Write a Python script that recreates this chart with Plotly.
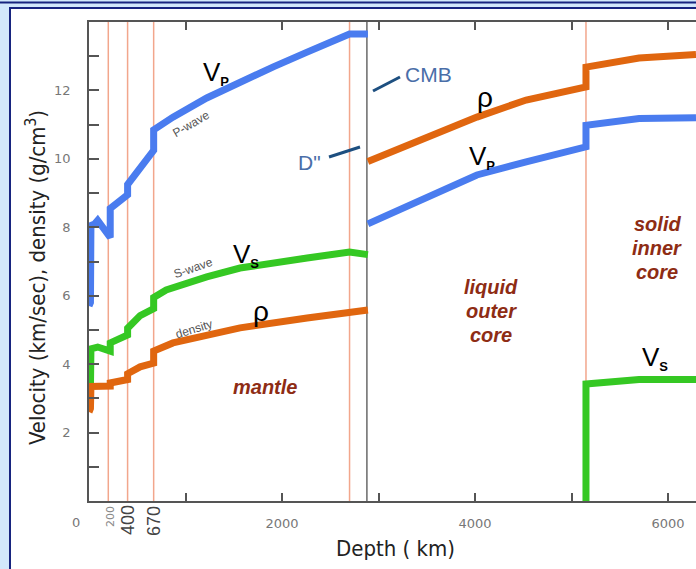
import plotly.graph_objects as go

# ---------------- data (depth in km, values in km/s or g/cm3) ----------------
mantle_depth_vp = [0, 15, 20, 60, 90, 220, 220, 400, 400, 670, 670, 750, 870, 1220, 1565, 1910, 2260, 2700, 2890]
mantle_vp = [5.7, 5.8, 8.05, 8.1, 8.2, 7.7, 8.55, 8.95, 9.25, 10.25, 10.85, 11.0, 11.22, 11.78, 12.25, 12.69, 13.12, 13.65, 13.65]

mantle_depth_vs = [0, 15, 20, 60, 90, 220, 220, 400, 400, 530, 670, 670, 800, 1220, 1565, 2260, 2700, 2890]
mantle_vs = [3.2, 3.3, 4.45, 4.45, 4.5, 4.38, 4.62, 4.85, 5.05, 5.42, 5.62, 5.95, 6.17, 6.55, 6.81, 7.1, 7.28, 7.2]

mantle_depth_rho = [0, 15, 20, 220, 220, 400, 400, 530, 670, 670, 870, 1565, 2260, 2700, 2890]
mantle_rho = [2.6, 2.7, 3.35, 3.36, 3.45, 3.55, 3.72, 3.92, 4.03, 4.38, 4.62, 5.06, 5.35, 5.52, 5.58]

core_depth = [2890, 3500, 4020, 4530, 5150, 5150, 5700, 6290]
core_vp = [8.1, 8.89, 9.53, 9.91, 10.35, 10.98, 11.18, 11.2]
core_rho = [9.92, 10.64, 11.22, 11.72, 12.1, 12.68, 12.95, 13.05]

inner_depth_vs = [5150, 5150, 5700, 6290]
inner_vs = [0, 3.42, 3.55, 3.55]

boundary_depths = [200, 400, 670, 2700, 5150]
cmb_depth = 2880

x_tickvals = [1000, 2000, 3000, 4000, 5000, 6000]
x_ticktext = ["", "2000", "", "4000", "", "6000"]
y_tickvals = list(range(1, 14))
y_ticktext = [str(v) if v % 2 == 0 else "" for v in y_tickvals]

# ---------------- geometry helpers ----------------
W, H = 696, 569
L, T, R, B = 89, 22, 696, 501


def px(x):
    return (x - L) / (R - L)


def py(y):
    return (B - y) / (B - T)


BLUE = "#4a7cef"
GREEN = "#35c823"
ORANGE = "#e0660f"
SALMON = "#f2a68c"
BROWN = "#8e2c14"
NAVY = "#17247f"
LABEL = "Liberation Sans, Arial, sans-serif"
NARROW = "Liberation Sans Narrow, DejaVu Sans Condensed, sans-serif"
TICKF = "DejaVu Sans, sans-serif"

fig = go.Figure()


def add_line(xs, ys, color):
    fig.add_trace(go.Scatter(x=xs, y=ys, mode="lines", line=dict(color=color, width=7),
                             showlegend=False, hoverinfo="skip"))


add_line(mantle_depth_vp, mantle_vp, BLUE)
add_line(mantle_depth_vs, mantle_vs, GREEN)
add_line(mantle_depth_rho, mantle_rho, ORANGE)
add_line(core_depth, core_vp, BLUE)
add_line(core_depth, core_rho, ORANGE)
add_line(inner_depth_vs, inner_vs, GREEN)

shapes = []
# frame
shapes.append(dict(type="rect", xref="paper", yref="paper", x0=px(10), x1=px(720), y0=py(8), y1=py(620),
                   fillcolor="white", line=dict(color=NAVY, width=2), layer="below"))
shapes.append(dict(type="line", xref="paper", yref="paper", x0=px(-5), x1=px(720), y0=py(2.5), y1=py(2.5),
                   line=dict(color=NAVY, width=2), layer="below"))
for d in boundary_depths:
    shapes.append(dict(type="line", xref="x", yref="paper", x0=d, x1=d, y0=0, y1=1,
                       line=dict(color=SALMON, width=1.5), layer="below"))
shapes.append(dict(type="line", xref="x", yref="paper", x0=cmb_depth, x1=cmb_depth, y0=0, y1=1,
                   line=dict(color="#444", width=1.2), layer="below"))
# pointer lines for CMB and D''
shapes.append(dict(type="line", xref="paper", yref="paper", x0=px(373), y0=py(91), x1=px(400), y1=py(77),
                   line=dict(color="#1d4f80", width=3)))
shapes.append(dict(type="line", xref="paper", yref="paper", x0=px(329), y0=py(157), x1=px(360), y1=py(147),
                   line=dict(color="#1d4f80", width=3)))

ann = []


def text(x, y, s, size, color="black", family=LABEL, angle=0):
    ann.append(dict(x=px(x), y=py(y), xref="paper", yref="paper", text=s, showarrow=False,
                    xanchor="center", yanchor="middle", textangle=angle,
                    font=dict(size=size, color=color, family=family)))


sub = lambda letter: "V<sub><b><span style='font-size:13px'>" + letter + "</span></b></sub>"
text(216, 73, sub("P"), 26)
text(246, 255, sub("S"), 26)
text(261, 311, "ρ", 28)
text(485, 98, "ρ", 28)
text(482, 157, sub("P"), 26)
text(655, 358, sub("S"), 26)

text(191, 124, "P-wave", 12, "#555", angle=-30)
text(193, 268, "S-wave", 12, "#555", angle=-19)
text(194, 329, "density", 12, "#555", angle=-17)

text(265, 387, "<b><i>mantle</i></b>", 20, BROWN)
for s, y in [("liquid", 287), ("outer", 311), ("core", 335)]:
    text(491, y, "<b><i>" + s + "</i></b>", 20, BROWN)
for s, y in [("solid", 224), ("inner", 248), ("core", 272)]:
    text(657, y, "<b><i>" + s + "</i></b>", 20, BROWN)

text(428, 74, "CMB", 21, "#4a6ea8")
text(309, 162, "D\"", 21, "#4a6ea8")

text(76, 522, "0", 13, "#777", family=TICKF)
text(110, 517, "200", 11, "#888", family=TICKF, angle=-90)
text(128, 520, "400", 18, "#444", angle=-90)
text(154, 521, "670", 18, "#444", angle=-90)

text(395, 548, "Depth ( km)", 22, "#222", family=NARROW)
text(36, 278, "Velocity (km/sec), density (g/cm<sup>3</sup>)", 22, "#222", family=NARROW, angle=-90)

fig.update_layout(
    width=W, height=H, autosize=False,
    margin=dict(l=L, r=W - R, t=T, b=H - B, pad=0),
    paper_bgcolor="#d2e8fb", plot_bgcolor="rgba(0,0,0,0)",
    shapes=shapes, annotations=ann,
    xaxis=dict(range=[0, (R - L) / 0.0965], showline=True, linecolor="#555", linewidth=1.5,
               mirror="ticks", ticks="inside", ticklen=8, tickcolor="#555", tickwidth=1.5,
               tickvals=x_tickvals, ticktext=x_ticktext, showgrid=False, zeroline=False,
               tickfont=dict(family=TICKF, size=13, color="#777"), ticklabelstandoff=10),
    yaxis=dict(range=[0, 14], showline=True, linecolor="#555", linewidth=1.5,
               ticks="inside", ticklen=10, tickcolor="#555", tickwidth=1.5,
               tickvals=y_tickvals, ticktext=y_ticktext, showgrid=False, zeroline=False,
               tickfont=dict(family=TICKF, size=13, color="#777"), ticklabelstandoff=14),
)

fig.write_html("out.html", config={"displayModeBar": False},
               post_script="document.body.style.margin='0';document.body.style.overflow='hidden';")
